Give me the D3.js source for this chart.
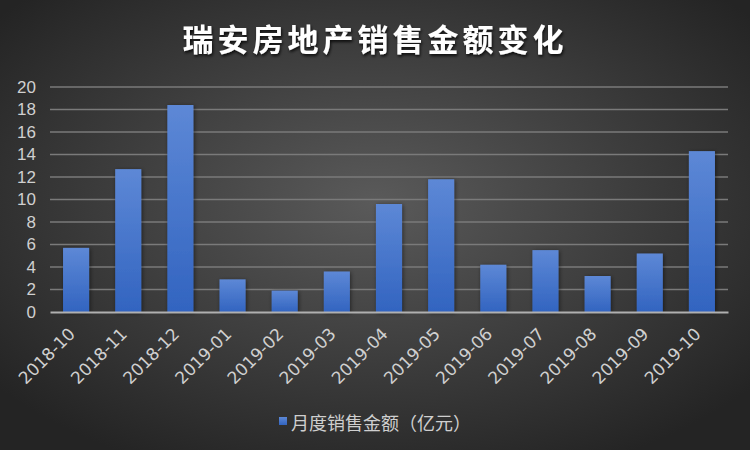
<!DOCTYPE html>
<html><head><meta charset="utf-8">
<script src="https://cdn.jsdelivr.net/npm/d3@7"></script>
<style>body{margin:0;background:#333}svg{display:block}</style>
</head><body>
<svg id="c" width="750" height="450"></svg>
<script>
const categories = ["2018-10","2018-11","2018-12","2019-01","2019-02","2019-03","2019-04","2019-05","2019-06","2019-07","2019-08","2019-09","2019-10"];
const values = [5.7,12.7,18.4,2.9,1.9,3.6,9.6,11.8,4.2,5.5,3.2,5.2,14.3];
const yTicks = [0,2,4,6,8,10,12,14,16,18,20];
const title = "瑞安房地产销售金额变化";
const seriesName = "月度销售金额（亿元）";

const svg = d3.select("#c");
const W = 750, H = 450;
const m = {l:50, r:22, t:87, b:138};
const defs = svg.append("defs");
const bg = defs.append("radialGradient").attr("id","bg").attr("cx","50%").attr("cy","45%").attr("r","65%");
bg.append("stop").attr("offset","0%").attr("stop-color","#5a5a5a");
bg.append("stop").attr("offset","100%").attr("stop-color","#242424");
const bar = defs.append("linearGradient").attr("id","bar").attr("x1",0).attr("y1",0).attr("x2",0).attr("y2",1);
bar.append("stop").attr("offset","0%").attr("stop-color","#5d88d6");
bar.append("stop").attr("offset","100%").attr("stop-color","#3264c0");
const sh = defs.append("filter").attr("id","sh").attr("x","-30%").attr("y","-10%").attr("width","160%").attr("height","130%");
sh.append("feDropShadow").attr("dx",1).attr("dy",1).attr("stdDeviation",2).attr("flood-color","#000").attr("flood-opacity",0.5);
const ts = defs.append("filter").attr("id","ts");
ts.append("feDropShadow").attr("dx",1).attr("dy",2).attr("stdDeviation",1.5).attr("flood-color","#000").attr("flood-opacity",0.8);

svg.append("rect").attr("width",W).attr("height",H).attr("fill","url(#bg)");

const x = d3.scaleBand().domain(categories).range([m.l, W-m.r]).paddingInner(0.5).paddingOuter(0.25);
const y = d3.scaleLinear().domain([0,20]).range([H-m.b, m.t]);

svg.append("text").attr("x",375).attr("y",51).attr("text-anchor","middle")
  .attr("font-family","'Noto Sans CJK SC'").attr("font-weight","bold").attr("font-size",31)
  .attr("fill","#fff").attr("letter-spacing",4).attr("filter","url(#ts)").text(title);

const grid = svg.append("g");
grid.selectAll("line").data(yTicks.slice(1)).join("line")
  .attr("x1",m.l).attr("x2",W-m.r).attr("y1",d=>y(d)).attr("y2",d=>y(d))
  .attr("stroke","#7a7a7a").attr("stroke-width",1.3);

const ya = svg.append("g").attr("transform",`translate(${m.l},0)`)
  .call(d3.axisLeft(y).tickValues(yTicks).tickSize(0).tickPadding(14));
ya.select(".domain").remove();
ya.selectAll("text").attr("font-family","'Liberation Sans', Arial").attr("font-size",17).attr("fill","#d0d0d0");

svg.append("g").selectAll("rect").data(values).join("rect")
  .attr("x",(d,i)=>x(categories[i])).attr("width",x.bandwidth())
  .attr("y",d=>y(d)).attr("height",d=>y(0)-y(d))
  .attr("fill","url(#bar)").attr("filter","url(#sh)");

const xa = svg.append("g").attr("transform",`translate(0,${y(0)})`)
  .call(d3.axisBottom(x).tickSize(0).tickPadding(0));
xa.select(".domain").attr("stroke","#b0b0b0").attr("stroke-width",2);
xa.selectAll("text").attr("font-family","'DejaVu Sans', sans-serif").attr("font-size",17).attr("fill","#d0d0d0")
  .attr("text-anchor","end").attr("y",0).attr("dy",0).attr("transform","translate(0,23) rotate(-45)");

const lg = svg.append("g");
lg.append("rect").attr("x",279).attr("y",417).attr("width",8).attr("height",8).attr("fill","url(#bar)");
lg.append("text").attr("x",291).attr("y",430).attr("font-family","'Noto Sans CJK SC'").attr("font-size",18)
  .attr("fill","#cfcfcf").text(seriesName);
</script>
</body></html>
